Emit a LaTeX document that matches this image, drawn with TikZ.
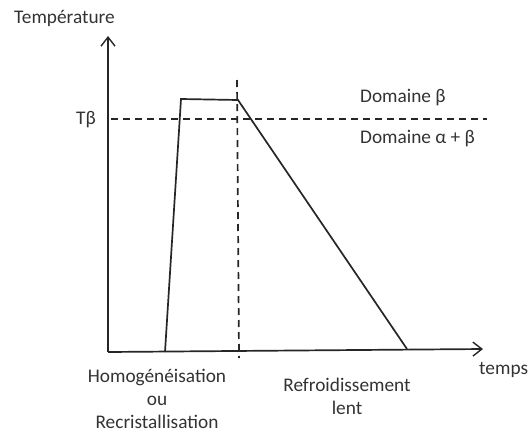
\documentclass[tikz,border=0pt]{standalone}
\usepackage{fontspec}
\setmainfont{Carlito}
\usetikzlibrary{arrows.meta}
\begin{document}
\begin{tikzpicture}[x=1pt,y=-1pt,
  axis/.style={line width=1.7pt,draw=black!85,-{Straight Barb[length=9pt,width=14pt,line width=1.4pt]}},
  curve/.style={line width=1.7pt,draw=black!85,line join=miter},
  dashline/.style={line width=1.7pt,draw=black!85,dash pattern=on 7pt off 5pt},
  lbl/.style={inner sep=0pt,text=black!80,font=\fontsize{19.3}{23}\selectfont},
  lblc/.style={lbl,align=center}]
\useasboundingbox (0,0) rectangle (529,434);
% axes
\coordinate (O) at (108,352);
\coordinate (Ytop) at (108,36);
\coordinate (Xend) at (483,349);
\draw[axis] (O) -- (Ytop);
\draw[axis] (O) -- (Xend);
% dashed lines
\coordinate (Tb0) at (111,119);
\coordinate (Tb1) at (487,119);
\draw[dashline] (Tb0) -- (Tb1);
\coordinate (V0) at (237,80);
\coordinate (V1) at (239,358);
\draw[dashline] (V0) -- (V1);
% curve
\coordinate (P0) at (165,352);
\coordinate (P1) at (181,99);
\coordinate (P2) at (238,100);
\coordinate (P3) at (407,349);
\draw[curve] (P0) -- (P1) -- (P2) -- (P3);
% labels
\node[lbl,anchor=west] (temp) at (14,18) {Température};
\node[lbl,anchor=east] (tb) at (96,120) {Tβ};
\node[lbl,anchor=west] (db) at (360,98) {Domaine β};
\node[lbl,anchor=west] (dab) at (360,139) {Domaine α + β};
\node[lbl,anchor=west] (temps) at (479,370) {temps};
\node[lblc,anchor=north] (homo) at (157,369) {Homogénéisation\\ou\\Recristallisation};
\node[lblc,anchor=north] (refr) at (347,378) {Refroidissement\\lent};
\end{tikzpicture}
\end{document}
